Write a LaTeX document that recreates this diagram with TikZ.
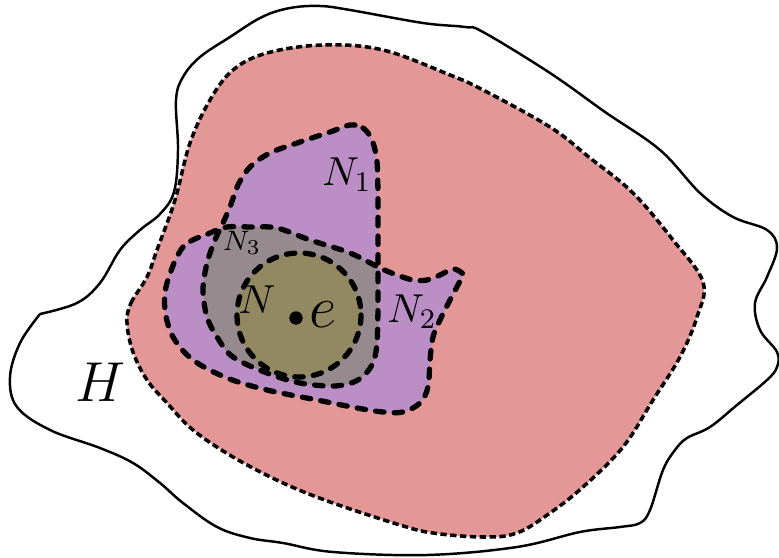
\documentclass[tikz,border=0pt]{standalone}
\usepackage{fix-cm}
\usepackage{amsmath,amssymb}
\usepackage{xcolor}
\usepackage{tikz}
\usetikzlibrary{positioning}

\definecolor{hpink}{RGB}{227,151,151}
\definecolor{npurple}{RGB}{187,142,198}
\definecolor{ngray}{RGB}{151,138,142}
\definecolor{nolive}{RGB}{146,137,99}

\begin{document}
\begin{tikzpicture}[
  x=0.01cm,y=-0.01cm,
  hline/.style={line width=0.7pt},
  pinkline/.style={line width=1pt,dash pattern=on 1.8pt off 1pt},
  nline/.style={line width=1.5pt,line cap=round,dash pattern=on 2.4pt off 2.9pt},
  lbl/.style={inner sep=0pt}
]
  \useasboundingbox (0,0) rectangle (779,558);
  % outer set H
  \draw[hline] plot[smooth,tension=0.6] coordinates {
    (40,314) (77,303) (100,283) (120,250) (140,230) (160,214) (174,192)
    (178,150) (176,100) (183,77) (200,57) (230,37) (262,17) (290,8)
    (320,6) (350,10) (423,23) (465,27) (483,32) (550,73) (605,112)
    (660,150) (700,193) (733,217) (767,230) (777,248) (767,277) (755,303)
    (760,330) (777,352) (777,367) (767,380) (737,405) (710,427) (687,438)
    (675,450) (663,470) (650,510) (640,523) (620,527) (580,532) (517,547)
    (427,555) (333,552) (283,543) (250,538) (217,527) (183,503) (160,483)
    (133,463) (100,448) (50,430) (17,407) (10,377) (20,343) (40,314)};
  % pink region
  \draw[pinkline,fill=hpink] plot[smooth cycle,tension=0.6] coordinates {
    (127,323) (131,303) (147,277) (157,250) (175,200) (190,143) (210,100)
    (233,70) (267,53) (323,45) (383,50) (450,75) (483,90) (550,127)
    (590,158) (633,193) (673,240) (703,282) (697,317) (680,357) (653,400)
    (623,447) (583,487) (550,513) (517,533) (483,537) (433,533) (400,525)
    (333,503) (283,483) (233,457) (193,430) (167,403) (147,380) (133,352)};
  % N1 and N2
  \fill[npurple] plot[smooth cycle,tension=0.55] coordinates {
    (350,125) (363,128) (372,140) (377,162) (378,200) (378,250) (378,300)
    (377,343) (372,365) (358,380) (335,386) (300,383) (267,373) (233,357)
    (217,337) (207,317) (203,290) (207,263) (215,240) (222,225) (230,207)
    (238,185) (250,167) (270,153) (300,142) (330,132)};
  \fill[npurple] plot[smooth cycle,tension=0.55] coordinates {
    (210,233) (183,247) (167,283) (165,310) (173,337) (193,360) (227,378)
    (267,390) (317,400) (357,408) (383,412) (403,412) (420,403) (428,387)
    (430,360) (433,337) (440,320) (450,300) (462,277) (462,273) (453,269)
    (440,275) (427,280) (413,280) (397,275) (380,268) (350,253) (310,240)
    (277,228) (250,227) (227,227)};
  % N3 = overlap of N1 and N2
  \begin{scope}
    \clip plot[smooth cycle,tension=0.55] coordinates {
      (350,125) (363,128) (372,140) (377,162) (378,200) (378,250) (378,300)
      (377,343) (372,365) (358,380) (335,386) (300,383) (267,373) (233,357)
      (217,337) (207,317) (203,290) (207,263) (215,240) (222,225) (230,207)
      (238,185) (250,167) (270,153) (300,142) (330,132)};
    \fill[ngray] plot[smooth cycle,tension=0.55] coordinates {
      (210,233) (183,247) (167,283) (165,310) (173,337) (193,360) (227,378)
      (267,390) (317,400) (357,408) (383,412) (403,412) (420,403) (428,387)
      (430,360) (433,337) (440,320) (450,300) (462,277) (462,273) (453,269)
      (440,275) (427,280) (413,280) (397,275) (380,268) (350,253) (310,240)
      (277,228) (250,227) (227,227)};
  \end{scope}
  \draw[nline] plot[smooth cycle,tension=0.55] coordinates {
    (350,125) (363,128) (372,140) (377,162) (378,200) (378,250) (378,300)
    (377,343) (372,365) (358,380) (335,386) (300,383) (267,373) (233,357)
    (217,337) (207,317) (203,290) (207,263) (215,240) (222,225) (230,207)
    (238,185) (250,167) (270,153) (300,142) (330,132)};
  \draw[nline] plot[smooth cycle,tension=0.55] coordinates {
    (210,233) (183,247) (167,283) (165,310) (173,337) (193,360) (227,378)
    (267,390) (317,400) (357,408) (383,412) (403,412) (420,403) (428,387)
    (430,360) (433,337) (440,320) (450,300) (462,277) (462,273) (453,269)
    (440,275) (427,280) (413,280) (397,275) (380,268) (350,253) (310,240)
    (277,228) (250,227) (227,227)};
  % neighbourhood N
  \draw[nline,fill=nolive] (299,315) circle (62);
  \node[circle,fill=black,inner sep=0pt,minimum size=3.8pt] (dot) at (296,318) {};
  \node[lbl,font=\fontsize{17}{19}\selectfont,right=1.4pt of dot,yshift=1pt] (elbl) {$e$};
  % labels: name/x/y/size/text
  \foreach \nm/\x/\y/\fs/\txt in {%
      hlbl/100/382/16/{H},
      nlbl/257/300/11.5/{N},
      none/347/175/11.5/{N_1},
      ntwo/412/312/11.5/{N_2},
      nthree/242/243/8/{N_3}%
  }{
    \node[lbl,font=\fontsize{\fs}{\fs}\selectfont] (\nm) at (\x,\y) {$\txt$};
  }
\end{tikzpicture}
\end{document}
